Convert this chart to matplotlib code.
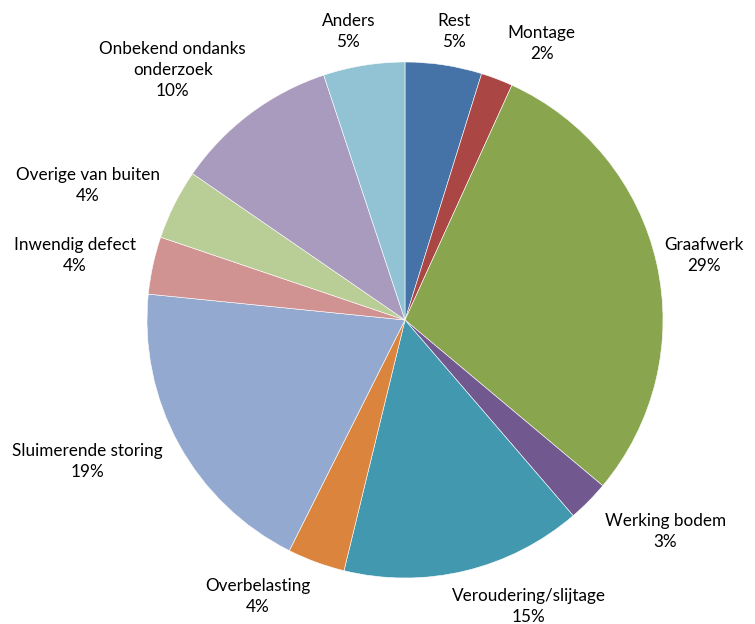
import matplotlib
matplotlib.use('Agg')
import matplotlib.pyplot as plt

# storingsoorzaken, clockwise from 12 o'clock
labels = ['Rest', 'Montage', 'Graafwerk', 'Werking bodem', 'Veroudering/slijtage',
          'Overbelasting', 'Sluimerende storing', 'Inwendig defect',
          'Overige van buiten', 'Onbekend ondanks\nonderzoek', 'Anders']
shares = [4.8, 2.0, 29.3, 2.6, 15.1, 3.6, 19.2, 3.6, 4.4, 10.3, 5.1]
colors = ['#4572A7', '#AA4643', '#89A54E', '#71588F', '#4198AF', '#DB843D',
          '#93A9CF', '#D19392', '#B9CD96', '#A99BBD', '#91C3D5']

# label anchors, in radii relative to the pie centre
label_pos = [(0.19, 1.12), (0.53, 1.07), (1.16, 0.25), (1.01, -0.82),
             (0.48, -1.11), (-0.57, -1.07), (-1.23, -0.55), (-1.28, 0.25),
             (-1.23, 0.52), (-0.90, 0.97), (-0.22, 1.12)]

W, H = 755, 624
cx, cy, r = 405, H - 320, 258

fig = plt.figure(figsize=(W / 100, H / 100), dpi=100)
ax = fig.add_axes([0, 0, 1, 1])

ax.pie(shares, colors=colors, startangle=90, counterclock=False,
       center=(cx, cy), radius=r, frame=True,
       wedgeprops=dict(edgecolor='white', linewidth=0.4))
ax.set_xlim(0, W)
ax.set_ylim(0, H)
ax.set_aspect('equal')
ax.axis('off')

for lab, val, (px, py) in zip(labels, shares, label_pos):
    ax.text(cx + px * r, cy + py * r, f'{lab}\n{round(val):.0f}%',
            ha='center', va='center', fontsize=12.3, family='Lato',
            linespacing=1.38, color='#000000')

fig.savefig('out.png', dpi=100)
